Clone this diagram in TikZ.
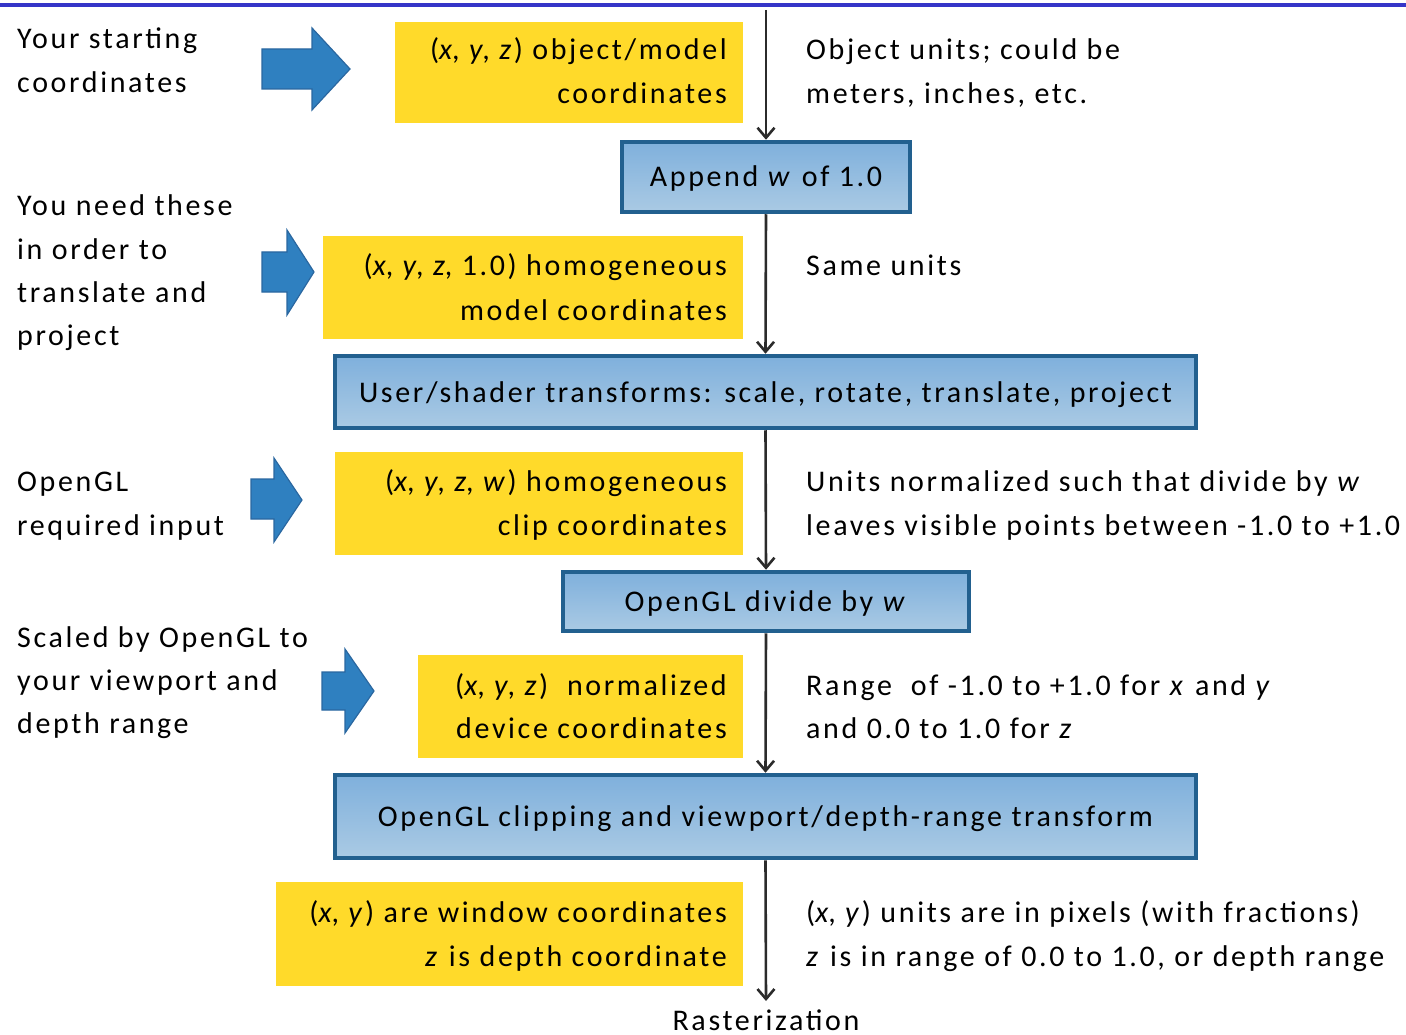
\documentclass[tikz,border=0pt]{standalone}
\usepackage{fontspec}
\setmainfont{Carlito}[LetterSpace=8.8]
\usetikzlibrary{arrows.meta}
\definecolor{topline}{HTML}{3535C8}
\definecolor{yel}{HTML}{FFDA2A}
\definecolor{arrfill}{HTML}{2F80C0}
\definecolor{arrdraw}{HTML}{2A67A0}
\definecolor{boxdraw}{HTML}{22608F}
\definecolor{boxtop}{HTML}{7FB0DC}
\definecolor{boxbot}{HTML}{AACAE4}
\definecolor{conn}{HTML}{2B2B2B}
\tikzset{
  txt/.style={inner sep=0pt, font=\fontsize{30}{44}\selectfont, text=black},
  lt/.style={txt, anchor=base west},
  rt/.style={txt, anchor=base east},
  ybox/.style={fill=yel, draw=none, anchor=north west, inner sep=0pt},
  bbox/.style={draw=boxdraw, line width=4.5pt, top color=boxtop, bottom color=boxbot, inner sep=0pt, font=\fontsize{30}{44}\selectfont, text height=21pt, text depth=1pt},
  bigarrow/.style={fill=arrfill, draw=arrdraw, line width=1.2pt, line join=miter},
  flow/.style={draw=conn, line width=2.6pt, -{Straight Barb[length=10pt,width=17pt,line width=2.6pt]}},
}
\begin{document}
\begin{tikzpicture}[x=1pt, y=-1pt]
\useasboundingbox (0,0) rectangle (1406,1035);
% top line
\fill[topline] (0,3) rectangle (1406,7);

% yellow boxes
\node[ybox, minimum width=348pt, minimum height=101pt] (y1) at (395,22) {};
\node[ybox, minimum width=420pt, minimum height=103pt] (y2) at (323,236) {};
\node[ybox, minimum width=408pt, minimum height=103pt] (y3) at (335,452) {};
\node[ybox, minimum width=325pt, minimum height=103pt] (y4) at (418,655) {};
\node[ybox, minimum width=467pt, minimum height=104pt] (y5) at (276,882) {};

\node[rt] (y1a) at (727,60) {(\textit{x}, \textit{y}, \textit{z}) object/model};
\node[rt] (y1b) at (727,104) {coordinates};
\node[rt] (y2a) at (727,276) {(\textit{x}, \textit{y}, \textit{z}, 1.0) homogeneous};
\node[rt] (y2b) at (727,320) {model coordinates};
\node[rt] (y3a) at (727,491) {(\textit{x}, \textit{y}, \textit{z}, \textit{w}) homogeneous};
\node[rt] (y3b) at (727,535) {clip coordinates};
\node[rt] (y4a) at (727,695) {(\textit{x}, \textit{y}, \textit{z})~ normalized};
\node[rt] (y4b) at (727,738) {device coordinates};
\node[rt] (y5a) at (727,922) {(\textit{x}, \textit{y}) are window coordinates};
\node[rt] (y5b) at (727,966) {\textit{z} is depth coordinate};

% blue process boxes
\node[bbox, minimum width=288pt, minimum height=70pt] (b1) at (766,177) {Append \textit{w} of 1.0};
\node[bbox, minimum width=861pt, minimum height=72pt] (b2) at (765.5,392) {User/shader transforms: scale, rotate, translate, project};
\node[bbox, minimum width=406pt, minimum height=59pt] (b3) at (766,601.5) {OpenGL divide by \textit{w}};
\node[bbox, minimum width=861pt, minimum height=83pt] (b4) at (765.5,816.5) {OpenGL clipping and viewport/depth-range transform};

% flow connectors
\coordinate (start) at (766,10);
\coordinate (finish) at (766,1001);
\draw[flow] (start) -- (b1.north);
\draw[flow] (b1.south) -- (b2.north);
\draw[flow] (b2.south) -- (b3.north);
\draw[flow] (b3.south) -- (b4.north);
\draw[flow] (b4.south) -- (finish);
\node[txt, anchor=base] (rast) at (766,1030) {Rasterization};

% left texts
\node[lt] (l1a) at (17,49) {Your starting};
\node[lt] (l1b) at (17,93) {coordinates};
\node[lt] (l2a) at (17,216) {You need these};
\node[lt] (l2b) at (17,259) {in order to};
\node[lt] (l2c) at (17,302) {translate and};
\node[lt] (l2d) at (17,345) {project};
\node[lt] (l3a) at (17,491) {OpenGL};
\node[lt] (l3b) at (17,535) {required input};
\node[lt] (l4a) at (17,647) {Scaled by OpenGL to};
\node[lt] (l4b) at (17,690) {your viewport and};
\node[lt] (l4c) at (17,733) {depth range};

% right texts
\node[lt] (r1a) at (806,60) {Object units; could be};
\node[lt] (r1b) at (806,104) {meters, inches, etc.};
\node[lt] (r2a) at (806,276) {Same units};
\node[lt] (r3a) at (806,491) {Units normalized such that divide by \textit{w}};
\node[lt] (r3b) at (806,535) {leaves visible points between -1.0 to +1.0};
\node[lt] (r4a) at (806,695) {Range~ of -1.0 to +1.0 for \textit{x} and \textit{y}};
\node[lt] (r4b) at (806,738) {and 0.0 to 1.0 for \textit{z}};
\node[lt] (r5a) at (806,922) {(\textit{x}, \textit{y}) units are in pixels (with fractions)};
\node[lt] (r5b) at (806,966) {\textit{z} is in range of 0.0 to 1.0, or depth range};

% big blue arrows
\draw[bigarrow] (262,49) -- (312,49) -- (312,28) -- (350,69) -- (312,110) -- (312,89) -- (262,89) -- cycle;
\draw[bigarrow] (262,252) -- (287,252) -- (287,230) -- (314,272) -- (287,315) -- (287,292) -- (262,292) -- cycle;
\draw[bigarrow] (251,479) -- (274,479) -- (274,458) -- (302,500) -- (274,542) -- (274,519) -- (251,519) -- cycle;
\draw[bigarrow] (322,672) -- (345,672) -- (345,649) -- (374,691) -- (345,733) -- (345,710) -- (322,710) -- cycle;
\end{tikzpicture}
\end{document}
